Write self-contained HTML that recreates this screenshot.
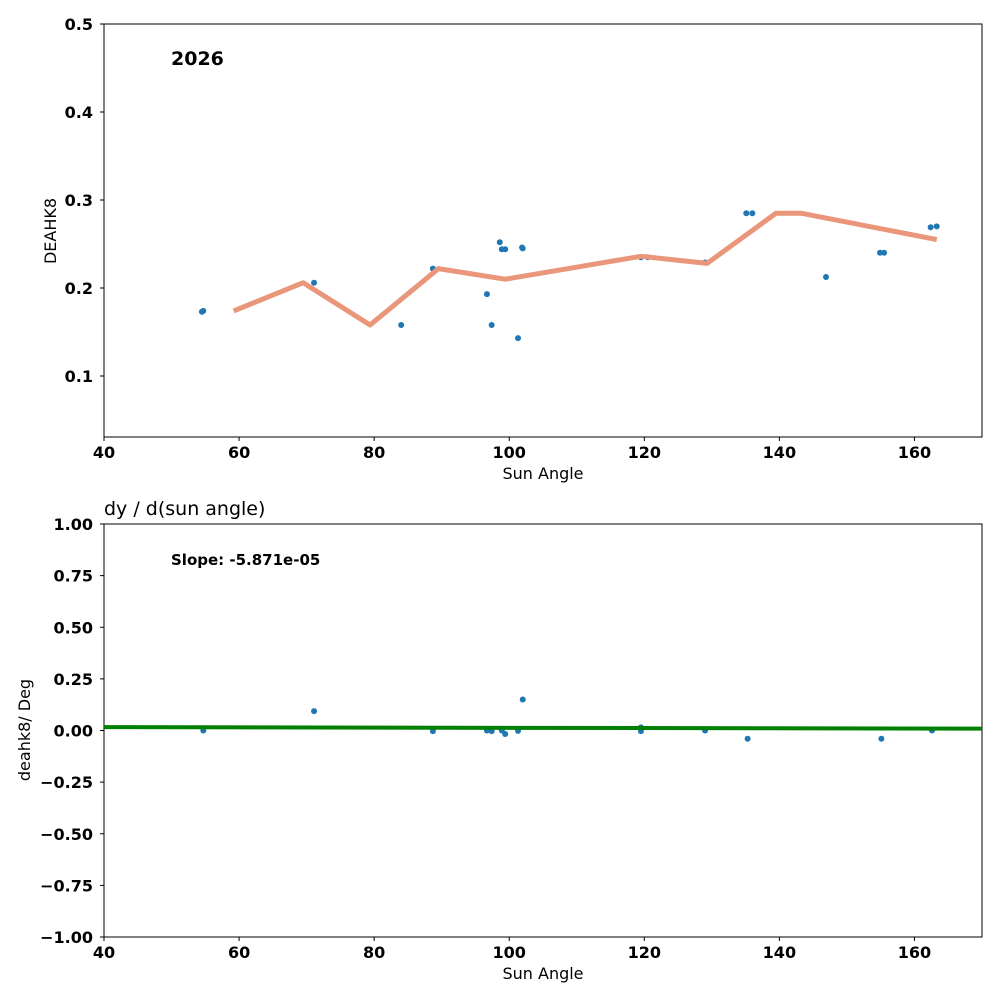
<!DOCTYPE html>
<html><head><meta charset="utf-8"><style>
body{margin:0;background:#fff;}
svg text{font-family:"DejaVu Sans","Liberation Sans",sans-serif;}
</style></head><body>
<svg id="c" width="1000" height="1000" xmlns="http://www.w3.org/2000/svg"></svg>
<script>
const topPointsX=[54.5,54.7,71.1,84.0,88.7,96.7,97.4,98.6,98.9,99.4,101.3,101.9,102.0,119.5,120.5,129.0,135.1,136.0,146.9,154.9,155.5,162.4,163.3];
const topPointsY=[0.173,0.174,0.206,0.158,0.222,0.193,0.158,0.252,0.244,0.244,0.143,0.246,0.245,0.235,0.235,0.229,0.285,0.285,0.2125,0.240,0.240,0.269,0.270];
const lineX=[59.2,69.5,79.4,89.5,99.4,119.5,129.3,139.5,143.2,163.3];
const lineY=[0.174,0.206,0.158,0.222,0.210,0.236,0.228,0.285,0.285,0.255];
const botPointsX=[54.7,71.1,88.7,96.7,97.4,98.9,99.4,101.3,102.0,119.5,119.5,129.0,135.3,155.1,162.6];
const botPointsY=[0.0,0.094,-0.003,0.0,-0.003,0.0,-0.017,-0.002,0.15,0.015,-0.003,0.0,-0.04,-0.04,0.0];
const slopeText='-5.871e-05';
const fitX=[40,170];
const fitY=[0.0165,0.0089];
const xTicks=[40,60,80,100,120,140,160];
const topYTicks=[0.1,0.2,0.3,0.4,0.5];
const botYTicks=[-1,-0.75,-0.5,-0.25,0,0.25,0.5,0.75,1];

const svg=document.getElementById('c');
const NS='http://www.w3.org/2000/svg';
function mk(tag,attrs,parent){const e=document.createElementNS(NS,tag);for(const k in attrs)e.setAttribute(k,attrs[k]);(parent||svg).appendChild(e);return e;}
const L=104,R=982;
const sx=v=>L+(v-40)/130*(R-L);
const syT=v=>24+(0.5-v)*880;
const syB=v=>730.5-v*206.5;

function axes(top,bot,sy,yt,fmt,name){
  const g=mk('g',{});
  
  
  const r=mk('rect',{x:L,y:top,width:R-L,height:bot-top,fill:'none',stroke:'#000','stroke-width':1},g);
  
  xTicks.forEach(t=>{const x=sx(t);mk('line',{x1:x,x2:x,y1:bot,y2:bot+4,stroke:'#000'},g);
    const tx=mk('text',{x:x,y:bot+21,'text-anchor':'middle','font-size':16,'font-weight':'bold'},g);tx.textContent=t;
    });
  yt.forEach(t=>{const y=sy(t);mk('line',{x1:L-4,x2:L,y1:y,y2:y,stroke:'#000'},g);
    const tx=mk('text',{x:L-11,y:y+6,'text-anchor':'end','font-size':16,'font-weight':'bold'},g);tx.textContent=fmt(t);
    });
  const xl=mk('text',{x:(L+R)/2,y:bot+42,'text-anchor':'middle','font-size':16},g);xl.textContent='Sun Angle';
  
  return g;
}
axes(24,437,syT,topYTicks,t=>t.toFixed(1),'top-axes');
axes(524,937,syB,botYTicks,t=>(t<0?'\u2212':'')+Math.abs(t).toFixed(2),'bottom-axes');

let t=mk('text',{x:0,y:0,'font-size':16,'text-anchor':'middle',transform:'translate(56,231) rotate(-90)'});t.textContent='DEAHK8';

t=mk('text',{x:0,y:0,'font-size':16,'text-anchor':'middle',transform:'translate(30,730) rotate(-90)'});t.textContent='deahk8/ Deg';

t=mk('text',{x:171,y:65,'font-size':19,'font-weight':'bold'});t.textContent='2026';

t=mk('text',{x:104,y:515,'font-size':19});t.textContent='dy / d(sun angle)';

t=mk('text',{x:171,y:565,'font-size':15,'font-weight':'bold'});t.textContent='Slope: '+slopeText;


topPointsX.forEach((x,i)=>{const c=mk('circle',{cx:sx(x),cy:syT(topPointsY[i]),r:3,fill:'#1f77b4'});
  });
const pl=mk('polyline',{points:lineX.map((x,i)=>sx(x)+','+syT(lineY[i])).join(' '),fill:'none',stroke:'#e9967a','stroke-width':5,'stroke-linejoin':'round'});


botPointsX.forEach((x,i)=>{const c=mk('circle',{cx:sx(x),cy:syB(botPointsY[i]),r:3,fill:'#1f77b4'});
  });
const fl=mk('line',{x1:sx(fitX[0]),y1:syB(fitY[0]),x2:sx(fitX[1]),y2:syB(fitY[1]),stroke:'#008000','stroke-width':4});

</script>
</body></html>
